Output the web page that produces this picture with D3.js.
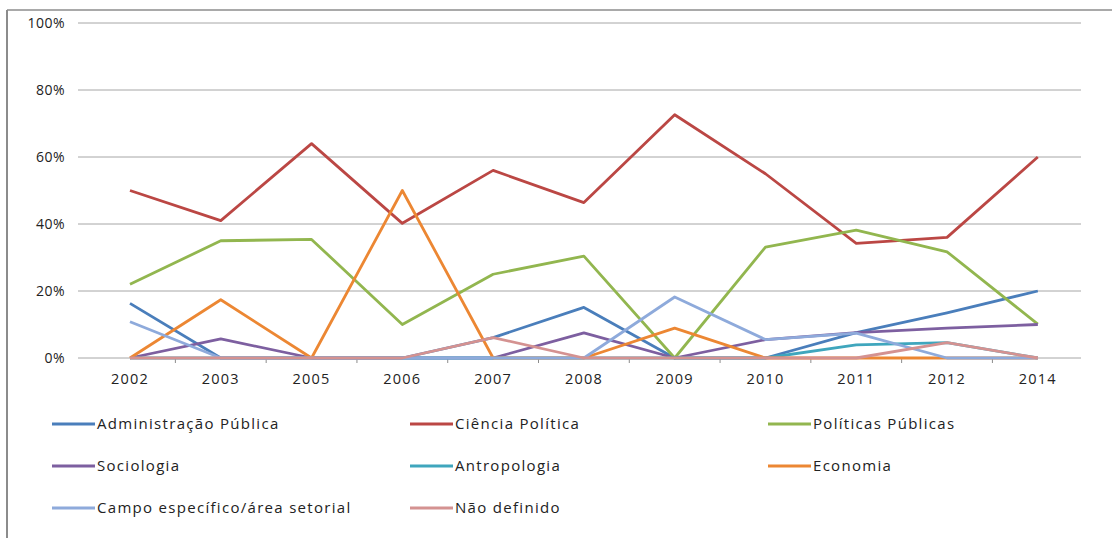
<!DOCTYPE html>
<html>
<head>
<meta charset="utf-8">
<script src="https://cdn.jsdelivr.net/npm/d3@7"></script>
<style>
  html, body { margin: 0; padding: 0; background: #fff; }
  svg { display: block; }
  text { font-family: "Open Sans", "DejaVu Sans", sans-serif; fill: #222; }
</style>
</head>
<body>
<svg id="chart" width="1112" height="538"></svg>
<script>
// Years on the category axis
const years = ["2002", "2003", "2005", "2006", "2007", "2008", "2009", "2010", "2011", "2012", "2014"];

// Share of works per field (%)
const administracaoPublica = [16.3, 0, 0, 0, 6.1, 15.1, 0, 0, 7.6, 13.5, 20];
const cienciaPolitica      = [50, 41, 64, 40.2, 56, 46.4, 72.6, 55, 34.2, 36, 60];
const politicasPublicas    = [22, 35, 35.4, 10, 25, 30.4, 0, 33.1, 38.2, 31.7, 10.1];
const sociologia           = [0, 5.7, 0, 0, 0, 7.5, 0, 5.5, 7.6, 8.9, 10];
const antropologia         = [0, 0, 0, 0, 0, 0, 0, 0, 3.9, 4.6, 0];
const economia             = [0, 17.4, 0, 50, 0, 0, 8.9, 0, 0, 0, 0];
const campoEspecifico      = [10.8, 0, 0, 0, 0, 0, 18.2, 5.5, 7.4, 0, 0];
const naoDefinido          = [0, 0, 0, 0, 6.1, 0, 0, 0, 0, 4.6, 0];

// Y axis tick values (%)
const yTicks = [0, 20, 40, 60, 80, 100];

const seriesNames = [
  "Administração Pública", "Ciência Política", "Políticas Públicas",
  "Sociologia", "Antropologia", "Economia",
  "Campo específico/área setorial", "Não definido"
];
const seriesValues = [
  administracaoPublica, cienciaPolitica, politicasPublicas,
  sociologia, antropologia, economia,
  campoEspecifico, naoDefinido
];
const seriesColors = [
  "#4a7ebb", "#bb4744", "#92b64f",
  "#7d5fa0", "#3fa6bd", "#ec8733",
  "#8eaadb", "#d49291"
];

const svg = d3.select("#chart");

// Outer frame (top and left edges)
svg.append("line").attr("x1", 7).attr("x2", 1112).attr("y1", 10).attr("y2", 10)
  .attr("stroke", "#8c8c8c").attr("stroke-width", 1.5);
svg.append("line").attr("x1", 7).attr("x2", 7).attr("y1", 10).attr("y2", 538)
  .attr("stroke", "#8c8c8c").attr("stroke-width", 2);

const gridLeft = 78, gridRight = 1081;
const x = d3.scaleBand().domain(years).range([84.6, 1083.2]);
const y = d3.scaleLinear().domain([0, 100]).range([358, 23]);

// Horizontal gridlines
svg.append("g").selectAll("line").data(yTicks.filter(d => d > 0)).join("line")
  .attr("x1", gridLeft).attr("x2", gridRight)
  .attr("y1", d => y(d)).attr("y2", d => y(d))
  .attr("stroke", "#a6a6a6").attr("stroke-width", 1);

// Y axis labels
const yAxis = d3.axisLeft(y).tickValues(yTicks).tickSize(0).tickPadding(0)
  .tickFormat(d => d + "%");
svg.append("g").attr("transform", "translate(65,0)").call(yAxis)
  .call(g => g.select(".domain").remove())
  .call(g => g.selectAll("text").attr("font-size", 14).attr("fill", "#222")
    .style("font-family", "'Open Sans', sans-serif").attr("letter-spacing", 0.5));

// Category axis line with ticks between categories
svg.append("line").attr("x1", gridLeft).attr("x2", gridRight)
  .attr("y1", y(0)).attr("y2", y(0)).attr("stroke", "#a6a6a6").attr("stroke-width", 1);
svg.append("g").selectAll("line").data(years.slice(1)).join("line")
  .attr("x1", d => x(d)).attr("x2", d => x(d))
  .attr("y1", y(0)).attr("y2", y(0) + 5)
  .attr("stroke", "#8c8c8c").attr("stroke-width", 1);
svg.append("g").selectAll("text").data(years).join("text")
  .attr("x", d => x(d) + x.bandwidth() / 2)
  .attr("y", 384)
  .attr("text-anchor", "middle")
  .attr("font-size", 14.5).attr("letter-spacing", 1.2)
  .text(d => d);

// Series lines
const line = d3.line()
  .x((d, i) => x(years[i]) + x.bandwidth() / 2)
  .y(d => y(d));
svg.append("g").selectAll("path").data(seriesValues).join("path")
  .attr("d", d => line(d))
  .attr("fill", "none")
  .attr("stroke", (d, i) => seriesColors[i])
  .attr("stroke-width", 2.8)
  .attr("stroke-linejoin", "round");

// Legend: three columns, three rows
const legendCols = [52, 410, 768];
const legendRows = [424, 466, 508];
const legend = svg.append("g").selectAll("g").data(seriesNames).join("g")
  .attr("transform", (d, i) => `translate(${legendCols[i % 3]},${legendRows[Math.floor(i / 3)]})`);
legend.append("line").attr("x1", 0).attr("x2", 43).attr("y1", 0).attr("y2", 0)
  .attr("stroke", (d, i) => seriesColors[i]).attr("stroke-width", 2.8);
legend.append("text").attr("x", 45).attr("y", 5)
  .attr("font-size", 15).attr("letter-spacing", 1.3)
  .text(d => d);
</script>
</body>
</html>
